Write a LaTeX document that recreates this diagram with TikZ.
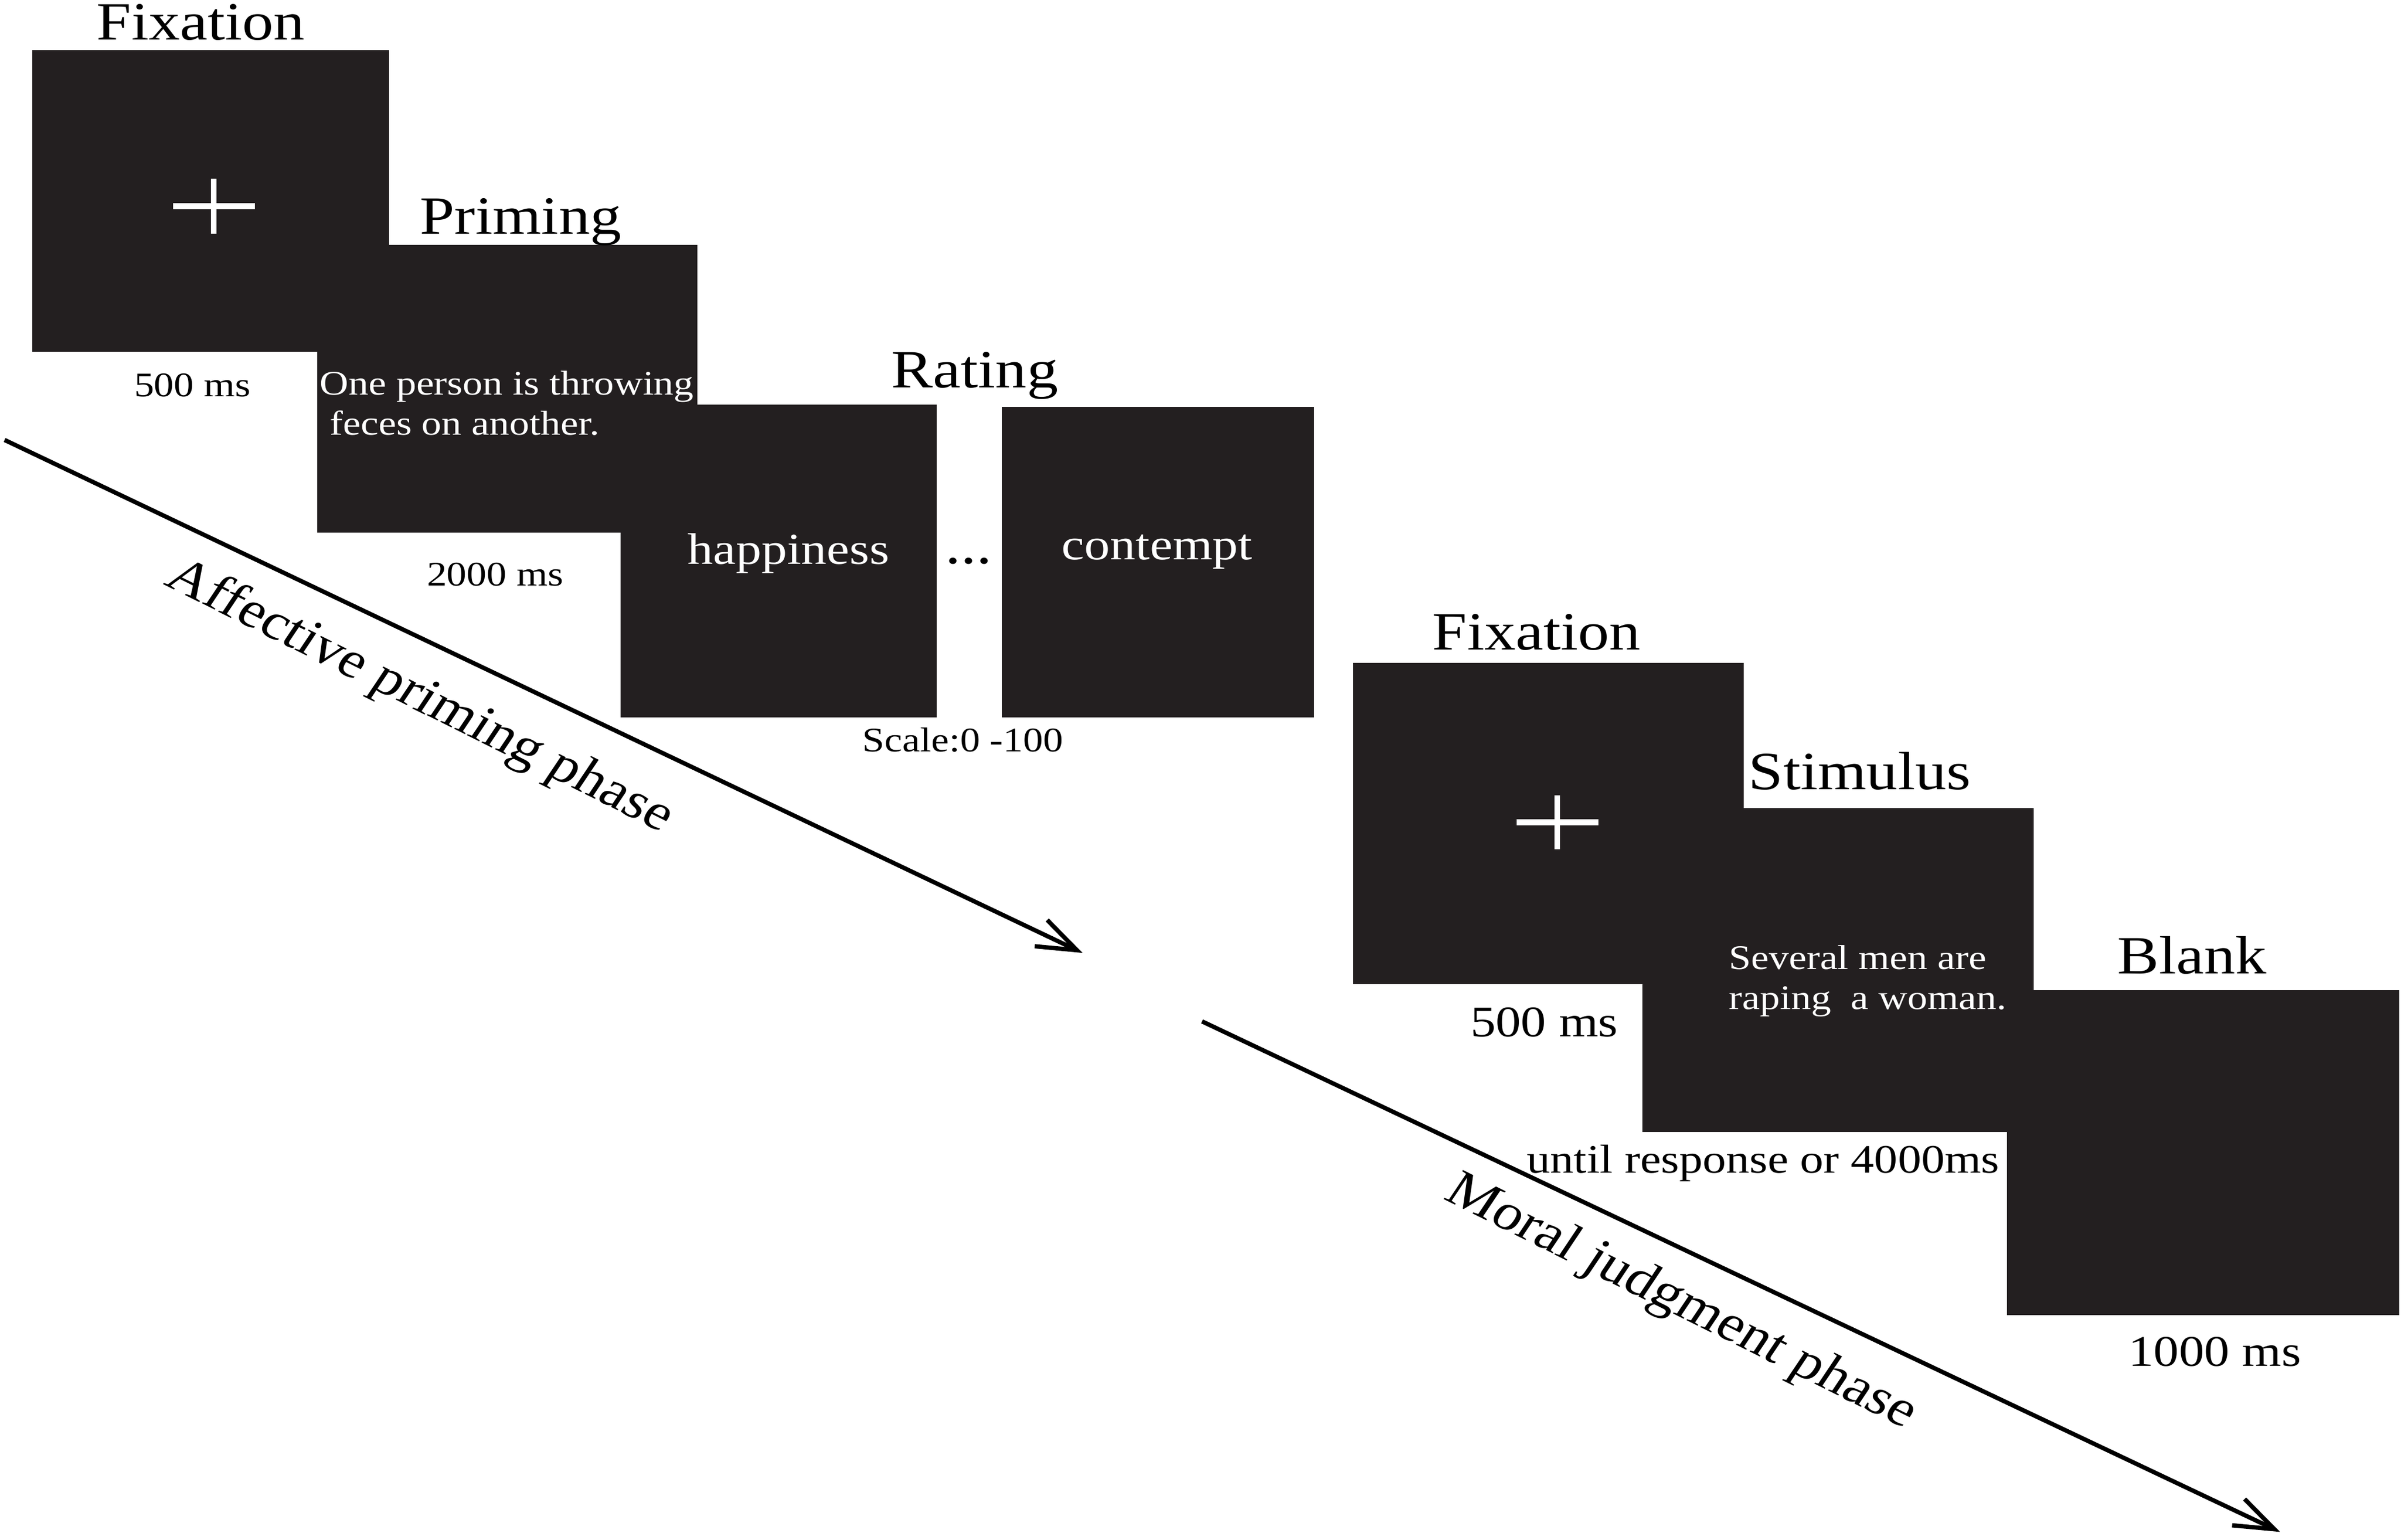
\documentclass[tikz,border=0pt]{standalone}
\usepackage{fontspec}
\setmainfont{Liberation Serif}
\usetikzlibrary{arrows.meta}
\definecolor{screen}{HTML}{231F20}

\begin{document}
\begin{tikzpicture}[x=0.01cm, y=-0.01cm]
\tikzset{Screen/.style = {fill=screen, draw=none, inner sep=0pt, anchor=north west}}
\tikzset{Title/.style = {font=\fontsize{10}{12}\selectfont, xscale=1.16, inner sep=0pt, anchor=base}}
\tikzset{Time/.style = {font=\fontsize{6.4}{7.4}\selectfont, xscale=1.16, inner sep=0pt, anchor=base}}
\tikzset{TimeB/.style = {Time, font=\fontsize{8.1}{9.5}\selectfont}}
\tikzset{Prompt/.style = {Time, text=white, align=left, anchor=base west}}
\tikzset{Word/.style = {font=\fontsize{8.2}{10}\selectfont, text=white, xscale=1.16, inner sep=0pt, anchor=base}}
\tikzset{Phase/.style = {font=\fontsize{9.5}{11}\selectfont, xscale=1.16, rotate=-30, inner sep=0pt}}
\tikzset{Cross/.style = {white, line width=1.1pt}}
\tikzset{PhaseArrow/.style = {-{Straight Barb[length=2.6mm, width=1.9mm]}, line width=0.8pt}}
	\useasboundingbox (0,0) rectangle (1568,1005.7);
% affective priming phase
	\node[Screen, minimum width=2.327cm, minimum height=1.971cm] (fixA) at (20.5,31.9) {};
	\node[Screen, minimum width=2.481cm, minimum height=1.879cm] (prime) at (206.4,159.2) {};
	\node[Screen, minimum width=2.066cm, minimum height=2.042cm] (rateA) at (404.4,263.4) {};
	\node[Screen, minimum width=2.036cm, minimum height=2.026cm] (rateB) at (653.6,265) {};
	\coordinate (crossA) at (139.6,134.7);
	\draw[Cross] (crossA) +(-26.7,0) -- +(26.7,0) +(0,-17.9) -- +(0,17.9);
	\node[Title] (fixAt) at (131.2,26) {Fixation};
	\node[Title] (primet) at (340,153) {Priming};
	\node[Title] (ratet) at (636.6,253) {Rating};
	\node[Time] (fixAms) at (125.7,258.8) {500 ms};
	\node[Time] (primems) at (323.4,382.5) {2000 ms};
	\node[Time] (scale) at (628.8,491) {Scale:0 -100};
	\node[Prompt] (primetxt) at (208,284) {One person is throwing\\\hspace*{1.6pt}feces on another.};
	\node[Word] (happy) at (515,368.5) {happiness};
	\node[Title] (dots) at (632.5,368) {...};
	\node[Word] (contempt) at (755.7,365.5) {contempt};
	\coordinate (affS) at (3,287.3);
	\coordinate (affE) at (707,622.3);
	\draw[PhaseArrow] (affS) -- (affE);
	\node[Phase] (afft) at (274,455.5) {Affective priming phase};
% moral judgment phase
	\node[Screen, minimum width=2.55cm, minimum height=2.097cm] (fixB) at (883,432) {};
	\node[Screen, minimum width=2.553cm, minimum height=2.112cm] (stim) at (1072,527.2) {};
	\node[Screen, minimum width=2.56cm, minimum height=2.12cm] (blank) at (1310,646) {};
	\coordinate (crossB) at (1017,537);
	\draw[Cross] (crossB) +(-26.7,0) -- +(26.7,0) +(0,-17.8) -- +(0,17.8);
	\node[Title] (fixBt) at (1003.5,424.5) {Fixation};
	\node[Title] (stimt) at (1214.5,515.5) {Stimulus};
	\node[Title] (blankt) at (1431.5,636) {Blank};
	\node[Prompt] (stimtxt) at (1128.3,659) {Several men are\\raping~ a woman.};
	\node[TimeB] (fixBms) at (1008.5,677) {500 ms};
	\node[Time, font=\fontsize{7.5}{9}\selectfont] (stimms) at (1151.5,766) {until response or 4000ms};
	\node[TimeB] (blankms) at (1446.5,892) {1000 ms};
	\coordinate (morS) at (785,667);
	\coordinate (morE) at (1489,1000.4);
	\draw[PhaseArrow] (morS) -- (morE);
	\node[Phase] (mort) at (1097.5,851) {Moral judgment phase};
\end{tikzpicture}
\end{document}
